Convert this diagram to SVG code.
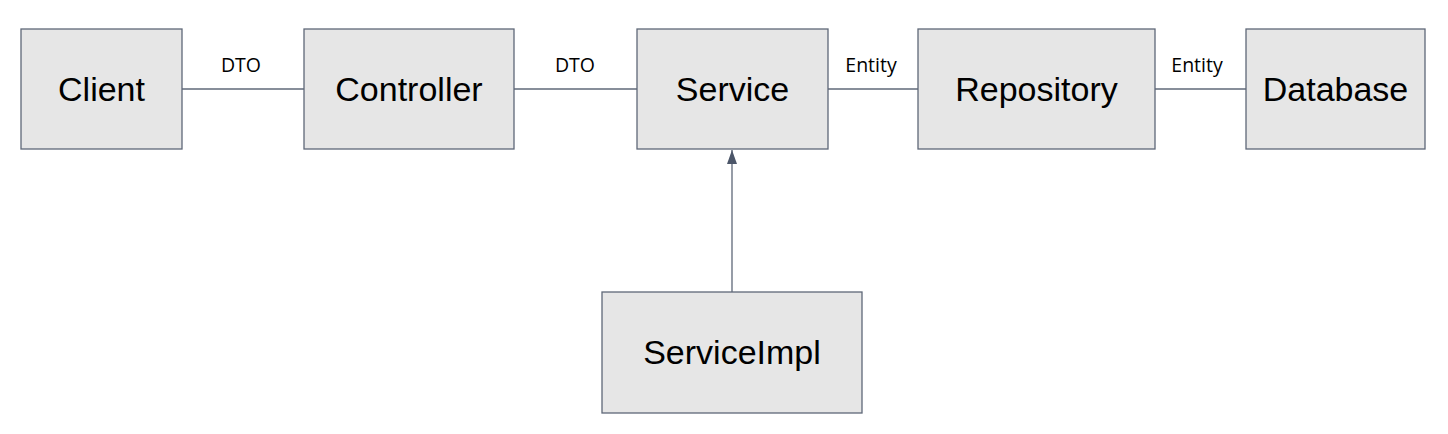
<svg xmlns="http://www.w3.org/2000/svg" width="1448" height="434" viewBox="0 0 1448 434">
<defs>
<style>
.box{fill:#e6e6e6;stroke:#5f6878;stroke-width:1.3}
.t{font-family:"Liberation Sans",Arial,sans-serif;font-size:34px;fill:#000;text-anchor:middle}
.lbl{font-family:"Open Sans","Noto Sans",sans-serif;font-size:19.5px;fill:#000;text-anchor:middle}
.ln{stroke:#5f6878;stroke-width:1.3;fill:none}
</style>
<marker id="arr" markerWidth="14" markerHeight="10" refX="14" refY="5" orient="auto" markerUnits="userSpaceOnUse" viewBox="0 0 14 10">
<path d="M0,0 L14,5 L0,10 Z" fill="#4c5669"/>
</marker>
</defs>
<rect width="1448" height="434" fill="#fff"/>
<g id="connectors">
<line class="ln" x1="182" y1="89" x2="304" y2="89"/>
<line class="ln" x1="514" y1="89" x2="637" y2="89"/>
<line class="ln" x1="828" y1="89" x2="918" y2="89"/>
<line class="ln" x1="1155" y1="89" x2="1246" y2="89"/>
<line class="ln" x1="732" y1="292" x2="732" y2="150" marker-end="url(#arr)"/>
<text class="lbl" x="241" y="72">DTO</text>
<text class="lbl" x="575" y="72">DTO</text>
<text class="lbl" x="871" y="72">Entity</text>
<text class="lbl" x="1197" y="72">Entity</text>
</g>
<g id="client"><rect class="box" x="21" y="29" width="161" height="120"/><text class="t" x="101.5" y="101">Client</text></g>
<g id="controller"><rect class="box" x="304" y="29" width="210" height="120"/><text class="t" x="409" y="101">Controller</text></g>
<g id="service"><rect class="box" x="637" y="29" width="191" height="120"/><text class="t" x="732.5" y="101">Service</text></g>
<g id="repository"><rect class="box" x="918" y="29" width="237" height="120"/><text class="t" x="1036.5" y="101">Repository</text></g>
<g id="database"><rect class="box" x="1246" y="29" width="179" height="120"/><text class="t" x="1335.5" y="101">Database</text></g>
<g id="serviceimpl"><rect class="box" x="602" y="292" width="260" height="121"/><text class="t" x="732" y="364">ServiceImpl</text></g>
</svg>
